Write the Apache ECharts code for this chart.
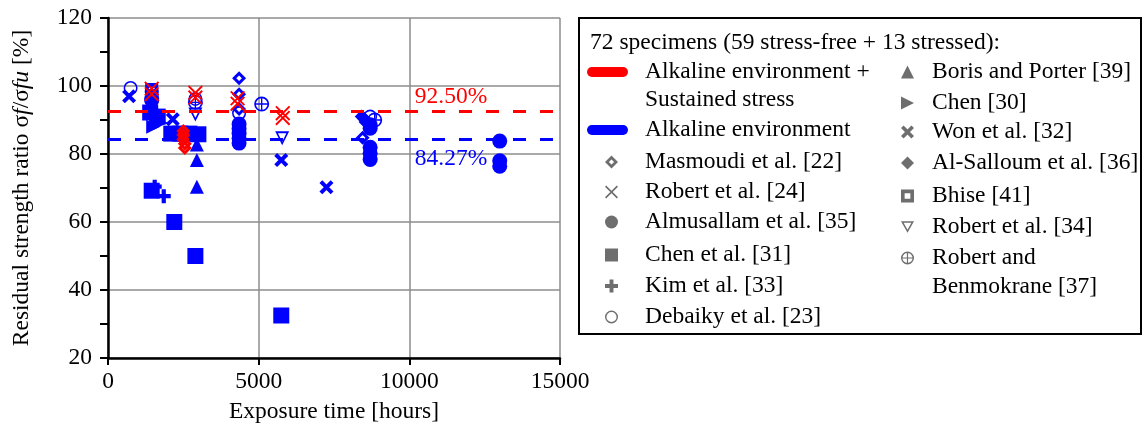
<!DOCTYPE html>
<html>
<head>
<meta charset="utf-8">
<script src="https://cdn.jsdelivr.net/npm/echarts@6/dist/echarts.min.js"></script>
<style>
  html, body { margin: 0; padding: 0; background: #fff; }
  #chart { width: 1143px; height: 442px; }
</style>
</head>
<body>
<div id="chart"></div>
<script>
// [hours, ratio %, stressed (1) or stress-free (0)]
const masmoudi    = [[4350, 102.3, 0], [4350, 97.6, 0], [4350, 93.2, 0], [8500, 90.4, 0], [8450, 84.8, 0],
                     [2500, 86.8, 1], [2500, 85.6, 1], [2500, 84.3, 1], [2550, 83.0, 1], [2550, 81.8, 1]];
const robert24    = [[1450, 99.2, 1], [1450, 97.6, 1], [2900, 98.0, 1], [2900, 96.6, 1],
                     [4300, 96.4, 1], [4300, 94.8, 1], [5800, 92.0, 1], [5800, 90.6, 1]];
const almusallam  = [[4350, 88.8, 0], [4350, 87.4, 0], [4350, 86.0, 0], [4350, 84.6, 0], [4350, 83.2, 0],
                     [8700, 88.6, 0], [8700, 87.6, 0], [8700, 82.0, 0], [8700, 80.2, 0], [8700, 78.4, 0],
                     [13000, 83.8, 0], [13000, 78.0, 0], [13000, 76.4, 0], [1450, 95.8, 0]];
const chen31      = [[1400, 92.2, 0], [1650, 91.0, 0], [2100, 86.0, 0], [2400, 86.0, 0], [2700, 86.0, 0],
                     [3000, 85.8, 0], [1450, 69.2, 0], [2200, 60.0, 0], [2900, 50.0, 0], [5750, 32.5, 0]];
const kim         = [[1550, 70.4, 0], [1850, 67.6, 0]];
const debaiky     = [[750, 99.4, 0], [1450, 98.2, 0], [2900, 96.2, 0], [4350, 92.0, 0], [8700, 91.0, 0]];
const boris       = [[2950, 85.8, 0], [2950, 82.8, 0], [2950, 78.2, 0], [2950, 70.4, 0]];
const chen30      = [[1500, 93.0, 0], [1600, 90.6, 0], [1750, 89.2, 0], [1500, 88.0, 0]];
const won         = [[700, 97.0, 0], [2150, 90.2, 0], [5750, 78.2, 0], [7250, 70.2, 0]];
const alSalloum   = [[8420, 91.0, 0], [8550, 89.4, 0]];
const bhise       = [[1450, 99.0, 0], [1450, 97.2, 0]];
const robert34    = [[2900, 91.6, 0], [5780, 84.6, 0], [1450, 93.4, 0]];
const benmokrane  = [[2900, 95.2, 0], [5100, 94.7, 0], [8850, 90.0, 0], [1450, 96.4, 0]];

const stressedMean = 92.5;
const freeMean = 84.27;
const xRange = [0, 15000];

const RED = '#ff0000', BLUE = '#0000ff', ICON = '#6e6e6e';
const FONT = 'Liberation Serif';
const FS = 23.5;

const ring = 'M5,0A5,5 0 1 1 5,10A5,5 0 1 1 5,0Z M5,1.1A3.9,3.9 0 1 0 5,8.9A3.9,3.9 0 1 0 5,1.1Z';
const SYM = {
  openDiamond: 'path://M5,0L10,5L5,10L0,5Z M5,3L3,5L5,7L7,5Z',
  thinX: 'path://M0,0.9L0.9,0L10,9.1L9.1,10Z M9.1,0L10,0.9L0.9,10L0,9.1Z',
  boldX: 'path://M0,2L2,0L10,8L8,10Z M8,0L10,2L2,10L0,8Z',
  plus: 'path://M3.5,0H6.5V3.5H10V6.5H6.5V10H3.5V6.5H0V3.5H3.5Z',
  openCircle: 'path://' + ring,
  rightTri: 'path://M0,0L10,5L0,10Z',
  bhise: 'path://M0,0H10V10H0Z M2.8,2.8V7.2H7.2V2.8Z',
  downTri: 'path://M0,0L10,0L5,9Z M2,1.2L5,6.6L8,1.2Z',
  circlePlus: 'path://' + ring + ' M4.55,0.5H5.45V9.5H4.55Z M0.5,4.55H9.5V5.45H0.5Z',
  capsule: 'path://M5,0H37A5,5 0 0 1 37,10H5A5,5 0 0 1 5,0Z'
};

const studies = [
  { name: 'Almusallam et al. [35]', data: almusallam, symbol: 'circle', size: 15 },
  { name: 'Chen et al. [31]', data: chen31, symbol: 'rect', size: 16 },
  { name: 'Kim et al. [33]', data: kim, symbol: SYM.plus, size: 14 },
  { name: 'Boris and Porter [39]', data: boris, symbol: 'triangle', size: 14 },
  { name: 'Chen [30]', data: chen30, symbol: SYM.rightTri, size: 14 },
  { name: 'Won et al. [32]', data: won, symbol: SYM.boldX, size: 14 },
  { name: 'Al-Salloum et al. [36]', data: alSalloum, symbol: 'diamond', size: 14 },
  { name: 'Bhise [41]', data: bhise, symbol: SYM.bhise, size: 13 },
  { name: 'Debaiky et al. [23]', data: debaiky, symbol: SYM.openCircle, size: 14 },
  { name: 'Robert et al. [34]', data: robert34, symbol: SYM.downTri, size: 14 },
  { name: 'Robert and Benmokrane [37]', data: benmokrane, symbol: SYM.circlePlus, size: 15 },
  { name: 'Masmoudi et al. [22]', data: masmoudi, symbol: SYM.openDiamond, size: 14 },
  { name: 'Robert et al. [24]', data: robert24, symbol: SYM.thinX, size: 15 }
];

const RED_NAME = 'Alkaline environment + Sustained stress';
const BLUE_NAME = 'Alkaline environment';

const series = studies.map(s => ({
  type: 'scatter',
  name: s.name,
  data: s.data,
  symbol: s.symbol,
  symbolSize: s.size,
  itemStyle: { opacity: 1, color: p => (p.data[2] ? RED : BLUE) },
  z: 3
}));

function meanLine(name, y, color, labelOffset) {
  return {
    type: 'line',
    name: name,
    data: [[xRange[0], y], [xRange[1], y]],
    showSymbol: false,
    color: color,
    lineStyle: { color: color, width: 3, type: [13, 14] },
    z: 4,
    markPoint: {
      symbol: 'circle', symbolSize: 1,
      itemStyle: { color: 'rgba(0,0,0,0)' },
      data: [{ coord: [10000, y] }],
      label: {
        show: true, position: 'right', distance: 5, offset: [0, labelOffset],
        formatter: y.toFixed(2) + '%',
        fontFamily: FONT, fontSize: FS, color: color
      }
    }
  };
}
series.push(meanLine(RED_NAME, stressedMean, RED, -15));
series.push(meanLine(BLUE_NAME, freeMean, BLUE, 19));

function entry(name, icon, left, cy, pad, size, label) {
  const w = size[0], h = size[1];
  return {
    left: left, top: cy - 13, padding: 0, selectedMode: false,
    itemWidth: w, itemHeight: h,
    formatter: label ? () => label : undefined,
    textStyle: { fontFamily: FONT, fontSize: FS, color: '#000', lineHeight: 26, padding: [0, 0, 0, pad] },
    data: [{ name: name, icon: icon, itemStyle: { color: icon === SYM.capsule ? undefined : ICON, borderWidth: 0 } }]
  };
}

const sq = [13, 13];
const legends = [
  entry(RED_NAME, SYM.capsule, 587, 72, 12, [41, 11], 'Alkaline environment +'),
  entry(BLUE_NAME, SYM.capsule, 587, 130, 12, [41, 11]),
  entry('Masmoudi et al. [22]', SYM.openDiamond, 605, 162, 22, [13, 13]),
  entry('Robert et al. [24]', SYM.thinX, 605, 192, 22, sq),
  entry('Almusallam et al. [35]', 'circle', 605, 222, 22, sq),
  entry('Chen et al. [31]', 'rect', 605, 255, 22, sq),
  entry('Kim et al. [33]', SYM.plus, 605, 286, 22, sq),
  entry('Debaiky et al. [23]', SYM.openCircle, 605, 317, 22, sq),
  entry('Boris and Porter [39]', 'triangle', 901, 72, 13, sq),
  entry('Chen [30]', SYM.rightTri, 901, 103, 13, sq),
  entry('Won et al. [32]', SYM.boldX, 901, 132, 13, sq),
  entry('Al-Salloum et al. [36]', 'diamond', 901, 163, 13, sq),
  entry('Bhise [41]', SYM.bhise, 901, 196, 13, sq),
  entry('Robert et al. [34]', SYM.downTri, 901, 227, 13, sq),
  entry('Robert and Benmokrane [37]', SYM.circlePlus, 901, 258, 13, sq, 'Robert and')
];

function txt(text, x, y) {
  return { type: 'text', x: x, y: y, z: 10,
    style: { text: text, fontFamily: FONT, fontSize: FS, fill: '#000', verticalAlign: 'middle' } };
}

const axisFont = { fontFamily: FONT, fontSize: FS, color: '#000' };

const option = {
  animation: false,
  backgroundColor: '#fff',
  grid: { left: 108, top: 18, width: 452, height: 340 },
  xAxis: {
    type: 'value', min: xRange[0], max: xRange[1], interval: 5000,
    name: 'Exposure time [hours]', nameLocation: 'middle', nameGap: 42,
    nameTextStyle: axisFont,
    axisLine: { lineStyle: { color: '#000', width: 2.5 } },
    axisTick: { show: true, length: 7, lineStyle: { color: '#000', width: 2 } },
    axisLabel: Object.assign({ margin: 12, formatter: v => String(v) }, axisFont),
    splitLine: { show: true, lineStyle: { color: '#8c8c8c', width: 1.5 } }
  },
  yAxis: {
    type: 'value', min: 20, max: 120, interval: 20,
    name: 'Residual strength ratio σ{i|f}/σ{i|fu} [%]', nameLocation: 'middle', nameGap: 74,
    nameTextStyle: Object.assign({ rich: { i: { fontFamily: FONT, fontSize: FS, fontStyle: 'italic', color: '#000' } } }, axisFont),
    axisLine: { show: true, lineStyle: { color: '#000', width: 2.5 } },
    axisTick: { show: true, length: 8, lineStyle: { color: '#000', width: 2 } },
    minorTick: { show: true, splitNumber: 2, length: 8, lineStyle: { color: '#000', width: 2 } },
    axisLabel: Object.assign({ margin: 16 }, axisFont),
    splitLine: { show: true, lineStyle: { color: '#8c8c8c', width: 1.5 } }
  },
  legend: legends,
  graphic: [
    { type: 'rect', x: 579, y: 18, z: 0, shape: { width: 562, height: 316 },
      style: { fill: 'none', stroke: '#000', lineWidth: 2 } },
    txt('72 specimens (59 stress-free + 13 stressed):', 590, 43),
    txt('Sustained stress', 645, 100),
    txt('Benmokrane [37]', 932, 287)
  ],
  series: series
};

const chart = echarts.init(document.getElementById('chart'), null, { renderer: 'canvas' });
chart.setOption(option);
window.addEventListener('resize', chart.resize);
</script>
</body>
</html>
